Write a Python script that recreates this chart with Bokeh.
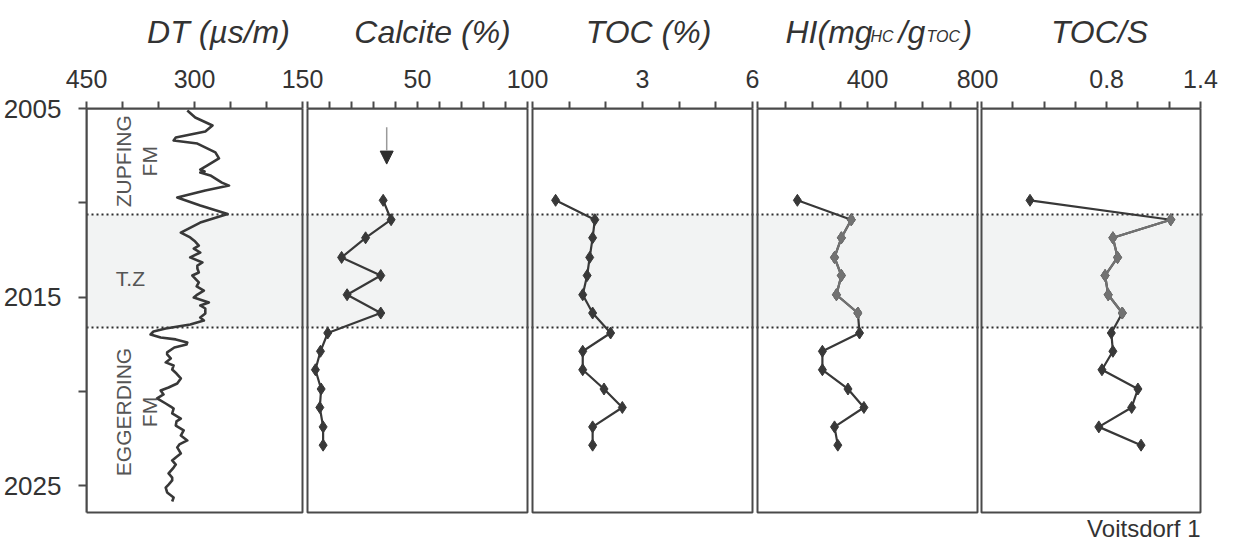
from math import pi

from bokeh.core.properties import value
from bokeh.embed import file_html
from bokeh.models import (Arrow, FixedTicker, GridBox, NormalHead, Range1d)
from bokeh.plotting import figure
from bokeh.resources import INLINE

# ---------------------------------------------------------------- data
# Sonic log (DT, µs/m) against depth (m)
DT_DEPTH = [2005.11, 2005.48, 2005.90, 2006.22, 2006.54, 2006.70, 2006.86, 2007.33,
            2007.65, 2008.02, 2008.24, 2008.34, 2008.40, 2008.55, 2008.93, 2009.09,
            2009.35, 2009.72, 2010.15, 2010.60, 2011.05, 2011.58, 2011.84, 2012.06,
            2012.27, 2012.43, 2012.64, 2012.90, 2013.17, 2013.33, 2013.49, 2013.70,
            2013.86, 2014.23, 2014.44, 2014.66, 2014.87, 2015.03, 2015.29, 2015.45,
            2015.61, 2015.88, 2016.09, 2016.25, 2016.46, 2016.67, 2016.83, 2016.99,
            2017.15, 2017.25, 2017.41, 2017.52, 2017.68, 2017.94, 2018.05, 2018.26,
            2018.47, 2018.63, 2018.85, 2019.06, 2019.32, 2019.59, 2019.80, 2019.96,
            2020.17, 2020.38, 2020.65, 2020.81, 2020.92, 2021.18, 2021.45, 2021.60,
            2021.82, 2022.08, 2022.35, 2022.61, 2022.82, 2022.98, 2023.30, 2023.51,
            2023.67, 2023.89, 2024.05, 2024.36, 2024.58, 2024.73, 2024.95, 2025.11,
            2025.37, 2025.64, 2025.85]
DT = [310, 299, 275, 285, 326, 329, 296, 271,
      266, 282, 292, 286, 292, 278, 262, 252,
      285, 324, 292, 254, 292, 319, 306, 299,
      294, 301, 292, 306, 289, 296, 296, 294,
      303, 294, 297, 287, 296, 301, 280, 292,
      285, 285, 292, 287, 306, 340, 357, 361,
      347, 326, 310, 311, 328, 338, 338, 333,
      340, 329, 331, 325, 319, 324, 336, 347,
      343, 352, 340, 333, 329, 331, 319, 325,
      326, 315, 319, 310, 321, 324, 319, 326,
      331, 326, 329, 336, 331, 331, 336, 340,
      338, 329, 331]

# Core samples
SAMPLE_DEPTH = [2009.87, 2010.90, 2011.86, 2012.90, 2013.86, 2014.88, 2015.85,
                2016.91, 2017.88, 2018.86, 2019.88, 2020.86, 2021.89, 2022.86]
CALCITE = [34.4, 38.0, 26.4, 15.5, 33.3, 18.0, 33.3, 9.2, 5.9, 3.6, 6.2, 5.6, 7.1, 7.1]
TOC = [0.63, 1.70, 1.64, 1.56, 1.49, 1.37, 1.64, 2.13, 1.37, 1.37, 1.95, 2.45, 1.64, 1.64]
HI = [145, 341, 305, 280, 305, 287, 365, 371, 236, 236, 329, 387, 280, 292]
TOC_S = [0.31, 1.21, 0.84, 0.87, 0.79, 0.81, 0.90, 0.83, 0.84, 0.77, 1.00, 0.96, 0.75, 1.02]

# Transition zone between the two formations
TZ_TOP = 2010.62
TZ_BASE = 2016.62
TZ_FIRST, TZ_LAST = 1, 6          # samples inside the transition zone

# Axis ticks: labelled and unlabelled
DT_TICKS, DT_MINOR = [450, 300, 150], [400, 350, 250, 200]
CAL_TICKS, CAL_MINOR = [50, 100], [0, 10, 20, 30, 40, 60, 70, 80, 90]
TOC_TICKS, TOC_MINOR = [3, 6], [0, 1, 2, 4, 5]
HI_TICKS, HI_MINOR = [400, 800], [0, 100, 200, 300, 500, 600, 700]
TS_TICKS, TS_MINOR = [0.8, 1.4], [0, 0.2, 0.4, 0.6, 1.0, 1.2]
DEPTH_TICKS, DEPTH_MINOR = [2005, 2015, 2025], [2010, 2020]

# ---------------------------------------------------------------- layout & style
W, H = 1235, 541
FRAME_L, FRAME_R, FRAME_T, FRAME_B = 86, 1204, 108, 515   # common plotting frame (px)
DEPTH_TOP, BOX_BASE = 2005.0, 2026.43
PX_PER_M = 18.85
DEPTH_END = DEPTH_TOP + (FRAME_B - FRAME_T) / PX_PER_M

FONT = "Liberation Sans"
INK = "#333333"
FRAME = "#4a4a4a"
LINE = "#383838"
LIGHT = "#727272"
BAND = "#f2f3f3"

depth_range = Range1d(DEPTH_END, DEPTH_TOP)


def track_range(x0, x1, v0, v1):
    """x range of the shared frame that puts v0..v1 on pixels x0..x1."""
    k = (v1 - v0) / (x1 - x0)
    return Range1d(v0 - (x0 - FRAME_L) * k, v1 + (FRAME_R - x1) * k)


def layer(x_range, y_range=depth_range, borders=(FRAME_L, W - FRAME_R, FRAME_T, H - FRAME_B), **kw):
    left, right, top, bottom = borders
    f = figure(width=W, height=H, x_range=x_range, y_range=y_range,
               toolbar_location=None, output_backend="svg", title_location=None,
               min_border_left=left, min_border_right=right,
               min_border_top=top, min_border_bottom=bottom, **kw)
    if "frame_align" in f.properties():
        f.frame_align = False
    f.background_fill_color = None
    f.border_fill_color = None
    f.outline_line_color = None
    f.grid.visible = False
    return f


def style_axis(ax, out=7, standoff=14, size="25px"):
    ax.axis_line_color = FRAME
    ax.axis_line_width = 2
    ax.major_tick_line_color = FRAME
    ax.minor_tick_line_color = FRAME
    ax.major_tick_line_width = 2
    ax.minor_tick_line_width = 2
    ax.major_tick_in = 0
    ax.minor_tick_in = 0
    ax.major_tick_out = out
    ax.minor_tick_out = out
    ax.major_label_text_font = FONT
    ax.major_label_text_font_size = size
    ax.major_label_text_color = INK
    ax.major_label_standoff = standoff


def track(x0, x1, v0, v1, ticks, minor, depth_axis=False):
    f = layer(track_range(x0, x1, v0, v1), x_axis_location="above",
              y_axis_location="left" if depth_axis else None)
    ax = f.xaxis[0]
    ax.ticker = FixedTicker(ticks=ticks, minor_ticks=minor)
    ax.bounds = (min(v0, v1), max(v0, v1))
    style_axis(ax)
    if depth_axis:
        f.yaxis[0].ticker = FixedTicker(ticks=DEPTH_TICKS, minor_ticks=DEPTH_MINOR)
        f.yaxis[0].bounds = (DEPTH_TOP, BOX_BASE)
        style_axis(f.yaxis[0], out=8, standoff=17, size="26px")
    # track frame
    f.quad(left=[v0], right=[v1], top=[DEPTH_TOP], bottom=[BOX_BASE],
           fill_color=None, line_color=FRAME, line_width=2)
    return f


def sample_curve(f, xs, light_part=False):
    f.line(xs, SAMPLE_DEPTH, line_color=LINE, line_width=2.2, line_join="round")
    f.scatter(xs, SAMPLE_DEPTH, marker="diamond", size=12,
              fill_color=LINE, line_color=LINE)
    if light_part:
        a, b = TZ_FIRST, TZ_LAST + 1
        f.line(xs[a:b], SAMPLE_DEPTH[a:b], line_color=LIGHT, line_width=2.2,
               line_join="round")
        f.scatter(xs[a:b], SAMPLE_DEPTH[a:b], marker="diamond", size=12,
                  fill_color=LIGHT, line_color=LIGHT)


# ---------------------------------------------------------------- sheet: transition-zone band
sheet = layer(Range1d(FRAME_L, FRAME_R), x_axis_location=None, y_axis_location=None)
sheet.background_fill_color = "white"
sheet.border_fill_color = "white"
sheet.quad(left=[86], right=[1202], top=[TZ_TOP], bottom=[TZ_BASE],
           fill_color=BAND, line_color=None)
sheet.segment(x0=[86, 86], x1=[1202, 1202], y0=[TZ_TOP, TZ_BASE], y1=[TZ_TOP, TZ_BASE],
              line_color="#2e2e2e", line_width=2, line_dash="2 3")

# ---------------------------------------------------------------- tracks
p_dt = track(86, 302, 450, 150, DT_TICKS, DT_MINOR, depth_axis=True)
p_dt.line(DT, DT_DEPTH, line_color=LINE, line_width=2.6, line_join="round")
names = dict(text_font=value(FONT), text_font_size="21px", text_color="#555555",
             text_align="center", text_baseline="middle")
p_dt.text(x=[398, 362], y=[2007.8, 2007.8], text=["ZUPFING", "FM"], angle=pi / 2, **names)
p_dt.text(x=[389], y=[2014.0], text=["T.Z"], **names)
p_dt.text(x=[398, 362], y=[2021.1, 2021.1], text=["EGGERDING", "FM"], angle=pi / 2, **names)

p_cal = track(307, 527, 0, 100, CAL_TICKS, CAL_MINOR)
sample_curve(p_cal, CALCITE)
p_cal.add_layout(Arrow(x_start=36, y_start=2006.0, x_end=36, y_end=2007.95,
                       line_color="#9a9a9a", line_width=1.5,
                       end=NormalHead(size=13, fill_color="#2e2e2e",
                                      line_color="#2e2e2e")))

p_toc = track(532, 752, 0, 6, TOC_TICKS, TOC_MINOR)
sample_curve(p_toc, TOC)

p_hi = track(757, 977, 0, 800, HI_TICKS, HI_MINOR)
sample_curve(p_hi, HI, light_part=True)

p_ts = track(981, 1200, 0, 1.4, TS_TICKS, TS_MINOR)
sample_curve(p_ts, TOC_S, light_part=True)

# ---------------------------------------------------------------- headings (page pixels)
heads = layer(Range1d(0, W), Range1d(H, 0), borders=(0, 0, 0, 0),
              x_axis_location=None, y_axis_location=None)
head = dict(text_font=value(FONT), text_font_style="italic", text_color=INK,
            text_baseline="alphabetic")
heads.text(x=[218, 432, 648, 1099], y=[31, 31, 31, 31],
           text=["DT (µs/m)", "Calcite (%)", "TOC (%)", "TOC/S"],
           text_align="center", text_font_size="32px", **head)
heads.text(x=[785, 898, 961], y=[31, 31, 31], text=["HI(mg", "/g", ")"],
           text_align="left", text_font_size="32px", **head)
heads.text(x=[870, 926], y=[36, 36], text=["HC", "TOC"],
           text_align="left", text_font_size="16px", **head)
heads.text(x=[1200], y=[528], text=["Voitsdorf 1"], text_font=value(FONT),
           text_font_size="24px", text_color=INK, text_align="right",
           text_baseline="middle")

layers = [sheet, p_dt, p_cal, p_toc, p_hi, p_ts, heads]
page = GridBox(children=[(f, 0, 0) for f in layers], width=W, height=H)

open("out.html", "w").write(file_html(page, INLINE, title="Voitsdorf 1"))
